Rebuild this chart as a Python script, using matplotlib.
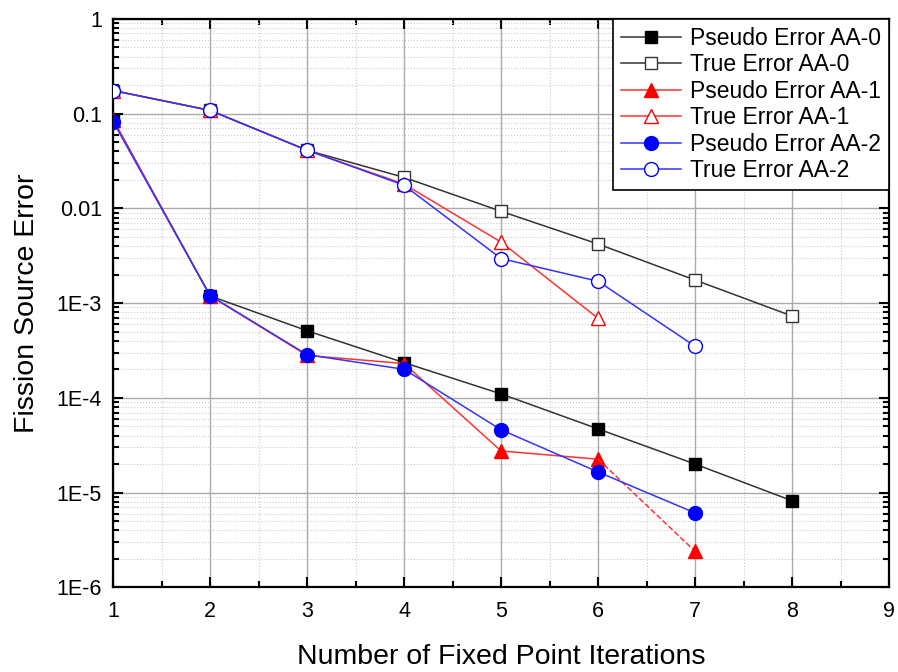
import matplotlib
matplotlib.use("Agg")
import matplotlib.pyplot as plt
from matplotlib.ticker import LogLocator, FixedLocator, NullFormatter

plt.rcParams['font.family'] = ['Liberation Sans', 'DejaVu Sans']

iters_0 = [1, 2, 3, 4, 5, 6, 7, 8]
pseudo_aa0 = [0.086, 1.19e-3, 5.1e-4, 2.35e-4, 1.1e-4, 4.7e-5, 2.0e-5, 8.2e-6]
true_aa0 = [0.175, 0.108, 0.041, 0.0212, 0.0093, 0.0042, 0.00175, 7.3e-4]

iters_1 = [1, 2, 3, 4, 5, 6]
pseudo_aa1 = [0.086, 1.19e-3, 2.8e-4, 2.3e-4, 2.75e-5, 2.25e-5]
pseudo_aa1_extra_x = [6, 7]
pseudo_aa1_extra = [2.25e-5, 2.4e-6]
true_aa1 = [0.175, 0.108, 0.041, 0.018, 4.4e-3, 6.9e-4]

iters_2 = [1, 2, 3, 4, 5, 6, 7]
pseudo_aa2 = [0.082, 1.2e-3, 2.85e-4, 2.0e-4, 4.6e-5, 1.65e-5, 6.1e-6]
true_aa2 = [0.175, 0.108, 0.041, 0.0175, 2.95e-3, 1.7e-3, 3.5e-4]

fig = plt.figure(figsize=(8.98, 6.72), dpi=100)
ax = fig.add_axes([0.126, 0.126, 0.864, 0.846])

ms = 9
ax.plot(iters_0, pseudo_aa0, '-', color='#333333', lw=1.1, marker='s', ms=ms,
        mfc='black', mec='black', label='Pseudo Error AA-0', zorder=3)
ax.plot(iters_0, true_aa0, '-', color='#333333', lw=1.1, marker='s', ms=ms,
        mfc='white', mec='#333333', label='True Error AA-0', zorder=3)
ax.plot(iters_1, pseudo_aa1, '-', color='#ff3333', lw=1.1, marker='^', ms=ms + 1,
        mfc='red', mec='red', label='Pseudo Error AA-1', zorder=4)
ax.plot(pseudo_aa1_extra_x, pseudo_aa1_extra, '--', color='#ff3333', lw=1.1, zorder=4)
ax.plot(pseudo_aa1_extra_x[1:], pseudo_aa1_extra[1:], linestyle='none', marker='^',
        ms=ms + 1, mfc='red', mec='red', zorder=4)
ax.plot(iters_1, true_aa1, '-', color='#ff3333', lw=1.1, marker='^', ms=ms + 1,
        mfc='white', mec='red', label='True Error AA-1', zorder=4)
ax.plot(iters_2, pseudo_aa2, '-', color='#3333ff', lw=1.1, marker='o', ms=ms + 1,
        mfc='blue', mec='blue', label='Pseudo Error AA-2', zorder=5)
ax.plot(iters_2, true_aa2, '-', color='#3333ff', lw=1.1, marker='o', ms=ms + 1,
        mfc='white', mec='blue', label='True Error AA-2', zorder=5)

ax.set_yscale('log')
ax.set_xlim(1, 9)
ax.set_ylim(1e-6, 1)
ax.set_xticks(range(1, 10))
ax.xaxis.set_minor_locator(FixedLocator([x + 0.5 for x in range(1, 9)]))
ax.set_yticks([1e-6, 1e-5, 1e-4, 1e-3, 0.01, 0.1, 1])
ax.set_yticklabels(['1E-6', '1E-5', '1E-4', '1E-3', '0.01', '0.1', '1'])
ax.yaxis.set_minor_locator(LogLocator(base=10, subs=range(2, 10), numticks=20))
ax.yaxis.set_minor_formatter(NullFormatter())

ax.grid(True, which='major', color='#aaaaaa', lw=1.0, ls='-')
ax.grid(True, which='minor', color='#cccccc', lw=0.8, ls=':')
ax.set_axisbelow(True)

ax.tick_params(which='both', direction='in', top=True, right=True, labelsize=15.5, width=1.5)
ax.tick_params(which='major', length=7)
ax.tick_params(which='minor', length=4)
ax.tick_params(axis='x', pad=10)
ax.tick_params(axis='y', pad=8)
for s in ax.spines.values():
    s.set_linewidth(1.6)

ax.set_xlabel('Number of Fixed Point Iterations', fontsize=20.5, labelpad=16)
ax.set_ylabel('Fission Source Error', fontsize=20.5, labelpad=12)

leg = ax.legend(loc='upper right', fontsize=16.5, frameon=True, fancybox=False,
                edgecolor='black', handlelength=2.6, borderaxespad=0.0,
                labelspacing=0.15, handletextpad=0.4, borderpad=0.35)
leg.get_frame().set_linewidth(1.2)
leg.get_frame().set_alpha(1)

fig.savefig('out.png', dpi=100)
